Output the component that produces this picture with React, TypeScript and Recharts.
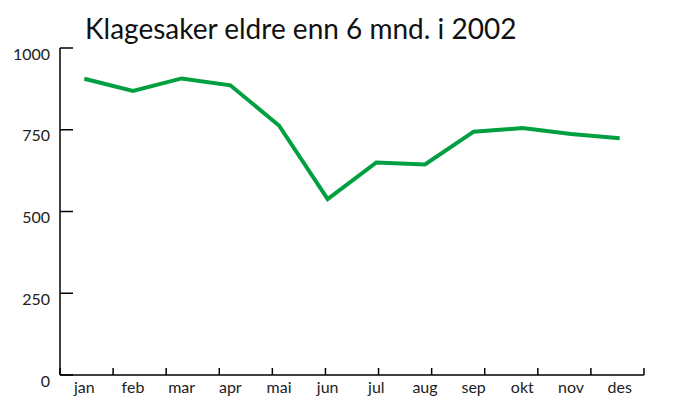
import React from "react";
import { LineChart, Line, XAxis, YAxis } from "recharts";

const months = ["jan", "feb", "mar", "apr", "mai", "jun", "jul", "aug", "sep", "okt", "nov", "des"];
const cases = [906, 869, 907, 886, 763, 538, 650, 644, 744, 755, 737, 724];
const yTicks = [0, 250, 500, 750, 1000];

const data = months.map((m, i) => ({ month: m, cases: cases[i] }));
const edges = months.map((_, i) => i).concat(months.length);

const font = "Lato, 'Open Sans', sans-serif";

const App = () => {
  return (
    <div style={{ position: "absolute", left: 0, top: 0, width: 686, height: 400, background: "#fff" }}>
      <div
        style={{
          position: "absolute",
          left: 85,
          top: 11,
          fontFamily: font,
          fontSize: 28,
          color: "#111",
          whiteSpace: "nowrap",
        }}
      >
        Klagesaker eldre enn 6 mnd. i 2002
      </div>
      <LineChart width={686} height={400} data={data} margin={{ top: 48, right: 42, bottom: 0, left: 0 }}>
        <XAxis
          xAxisId="edges"
          type="number"
          domain={[0, months.length]}
          ticks={edges}
          allowDataOverflow
          tickFormatter={() => ""}
          tickSize={-7}
          height={1}
          stroke="#000"
          axisLine={{ stroke: "#000", strokeWidth: 1.5 }}
          tickLine={{ stroke: "#000", strokeWidth: 1.5 }}
        />
        <XAxis
          xAxisId="m"
          dataKey="month"
          scale="band"
          axisLine={false}
          tickLine={false}
          height={24}
          tick={{ fill: "#222", fontSize: 16, fontFamily: font }}
          tickMargin={0}
        />
        <YAxis
          domain={[0, 1000]}
          ticks={yTicks}
          width={60}
          tickSize={-13}
          tickMargin={23}
          stroke="#000"
          axisLine={{ stroke: "#000", strokeWidth: 1.5 }}
          tickLine={{ stroke: "#000", strokeWidth: 1.5 }}
          tick={{ fill: "#222", fontSize: 16, fontFamily: font, dy: 6 }}
        />
        <Line
          xAxisId="m"
          dataKey="cases"
          stroke="#00a040"
          strokeWidth={4}
          dot={false}
          isAnimationActive={false}
        />
      </LineChart>
    </div>
  );
};

export default App;
